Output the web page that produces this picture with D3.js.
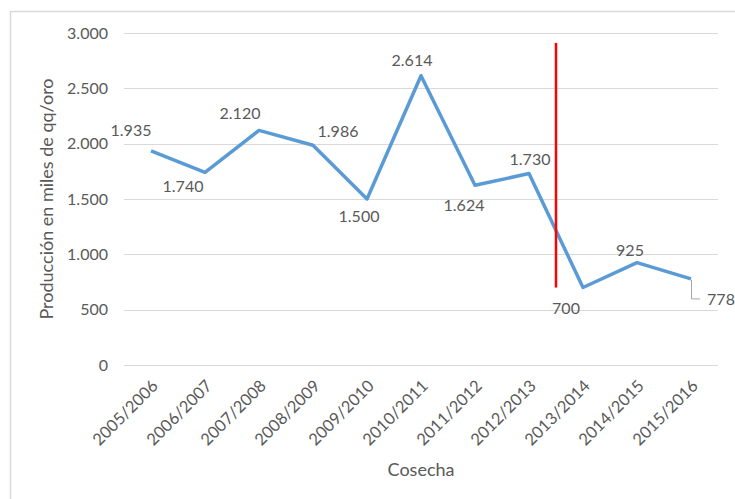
<!DOCTYPE html>
<html>
<head>
<meta charset="utf-8">
<script src="https://cdn.jsdelivr.net/npm/d3@7"></script>
<style>
  body { margin: 0; background: #fff; }
  text { font-family: Lato, "Open Sans", sans-serif; fill: #595959; }
</style>
</head>
<body>
<svg id="chart" width="735" height="499"></svg>
<script>
// Datos de la grafica
const cosechas = ['2005/2006', '2006/2007', '2007/2008', '2008/2009', '2009/2010', '2010/2011',
    '2011/2012', '2012/2013', '2013/2014', '2014/2015', '2015/2016'];
const produccion = [1935, 1740, 2120, 1986, 1500, 2614, 1624, 1730, 700, 925, 778];
const yTicks = [0, 500, 1000, 1500, 2000, 2500, 3000];
// linea roja entre 2012/2013 y 2013/2014
const marcaDesde = 700;
const marcaHasta = 2910;

// offsets of the data labels (px) relative to each point
const labelOffset = [[-20, -20], [-22, 14], [-19, -17], [25, -14], [-8, 17], [-9, -15],
    [-11, 20], [1, -14], [-17, 21], [-7, -12], [30, 20]];

const fmt = v => d3.format(',')(v).replace(/,/g, '.');

window.addEventListener('load', () => {
    let svg = d3.select('svg#chart');

    // marco
    svg.append('rect')
        .attr('x', 10.5).attr('y', 11.5)
        .attr('width', 740).attr('height', 500)
        .attr('fill', 'none')
        .attr('stroke', '#d9d9d9')
        .attr('stroke-width', 1.5);

    let left = 124, right = 718, top = 33, bottom = 365;

    let x = d3.scaleBand().domain(cosechas).range([left, right]);
    let y = d3.scaleLinear().domain([0, 3000]).range([bottom, top]);

    // grid
    svg.append('g')
        .selectAll('line')
        .data(yTicks)
        .join('line')
        .attr('x1', left).attr('x2', right)
        .attr('y1', d => Math.round(y(d)) + 0.5)
        .attr('y2', d => Math.round(y(d)) + 0.5)
        .attr('stroke', '#d9d9d9')
        .attr('stroke-width', 1);

    // y axis labels
    let yAxis = svg.append('g')
        .attr('transform', 'translate(' + left + ',0)')
        .call(d3.axisLeft(y).tickValues(yTicks).tickFormat(fmt).tickSize(0).tickPadding(16));
    yAxis.select('.domain').remove();
    yAxis.selectAll('text')
        .style('font-size', '16px')
        .attr('fill', '#595959');

    // x axis labels
    let xAxis = svg.append('g')
        .attr('transform', 'translate(0,' + bottom + ')')
        .call(d3.axisBottom(x).tickSize(0).tickPadding(0));
    xAxis.select('.domain').remove();
    xAxis.selectAll('text')
        .style('font-size', '16.5px')
        .attr('fill', '#595959')
        .attr('text-anchor', 'end')
        .attr('dy', null)
        .attr('transform', 'translate(8,22) rotate(-45)');

    // titulos
    svg.append('text')
        .attr('transform', 'translate(53,199) rotate(-90)')
        .attr('text-anchor', 'middle')
        .style('font-size', '18px')
        .text('Producción en miles de qq/oro');
    svg.append('text')
        .attr('x', 421).attr('y', 476)
        .attr('text-anchor', 'middle')
        .style('font-size', '18px')
        .text('Cosecha');

    // linea de produccion
    let cx = i => x(cosechas[i]) + x.bandwidth() / 2;
    let line = d3.line()
        .x((d, i) => cx(i))
        .y(d => y(d));
    svg.append('path')
        .datum(produccion)
        .attr('d', line)
        .attr('fill', 'none')
        .attr('stroke', '#5b9bd5')
        .attr('stroke-width', 3.5)
        .attr('stroke-linejoin', 'round');

    // linea roja
    let xr = x(cosechas[8]);
    svg.append('line')
        .attr('x1', xr).attr('x2', xr)
        .attr('y1', y(marcaHasta)).attr('y2', y(marcaDesde))
        .attr('stroke', '#ff0000')
        .attr('stroke-width', 2.5);

    // leader line for last label
    let last = produccion.length - 1;
    svg.append('path')
        .attr('d', 'M' + (cx(last) + 0.5) + ',' + (y(produccion[last]) + 1) +
            'V' + (y(produccion[last]) + 20) + 'H' + (cx(last) + 9))
        .attr('fill', 'none')
        .attr('stroke', '#a6a6a6')
        .attr('stroke-width', 1);

    // etiquetas
    svg.append('g')
        .selectAll('text')
        .data(produccion)
        .join('text')
        .attr('x', (d, i) => cx(i) + labelOffset[i][0])
        .attr('y', (d, i) => y(d) + labelOffset[i][1])
        .attr('dy', '0.35em')
        .attr('text-anchor', 'middle')
        .style('font-size', '16px')
        .text(d => fmt(d));
});
</script>
</body>
</html>
